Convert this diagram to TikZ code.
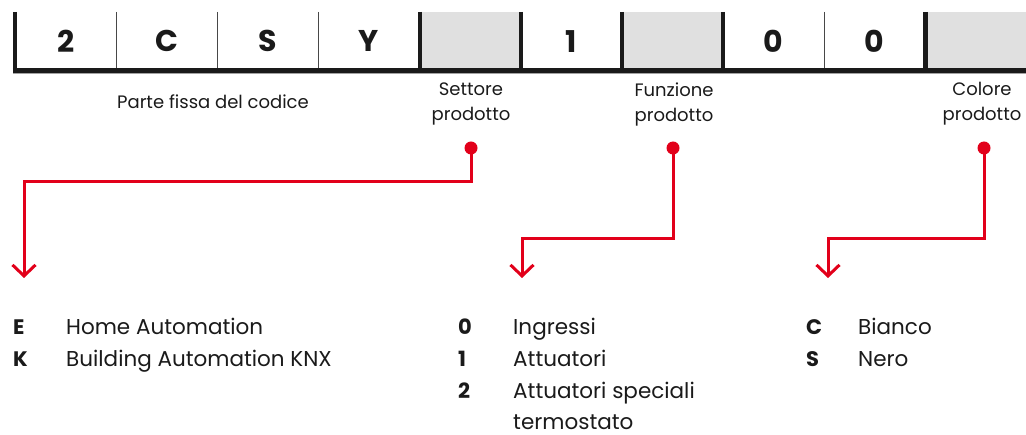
\documentclass[tikz,border=0pt]{standalone}
\usepackage{fontspec}
\setmainfont{Poppins}[Ligatures=NoCommon]
\usepackage{tikz}
\usetikzlibrary{arrows.meta, positioning, calc}
\definecolor{abbred}{RGB}{226, 0, 26}
\definecolor{inkdark}{RGB}{26, 26, 26}
\definecolor{cellgray}{RGB}{224, 224, 224}

\begin{document}
\begin{tikzpicture}[
    x=1pt, y=-1pt,
    cell/.style={minimum width=101.1pt, minimum height=58pt, inner sep=0pt,
                 font=\fontsize{30}{30}\selectfont\bfseries, text=inkdark},
    thinsep/.style={draw=inkdark!80, line width=1pt},
    thicksep/.style={draw=inkdark, line width=4.5pt},
    lbl/.style={font=\fontsize{18}{25}\selectfont, text=inkdark, align=center},
    keych/.style={anchor=base west, inner sep=0pt,
                  font=\fontsize{21}{21}\selectfont\bfseries, text=inkdark},
    keytxt/.style={anchor=base west, inner sep=0pt,
                   font=\fontsize{21.5}{21.5}\selectfont, text=inkdark},
    dot/.style={circle, fill=abbred, minimum size=13pt, inner sep=0pt},
    arr/.style={-{Straight Barb[length=11pt, width=23pt, line width=3pt]},
                line width=3pt, draw=abbred},
]
    \useasboundingbox (0,0) rectangle (1026,435);

    % code cells
    \foreach \ch [count=\i from 0] in {2,C,S,Y,,1,,0,0,} {
        \node[cell, anchor=north west] (c\i) at (15+101.1*\i,12) {\ch};
    }
    \foreach \i in {4,6,9} \fill[cellgray] (c\i.north west) rectangle (c\i.south east);

    \foreach \i in {0,1,2,7} \draw[thinsep] (c\i.north east) -- (c\i.south east);
    \foreach \i in {3,4,5,6,8} \draw[thicksep] (c\i.north east) -- (c\i.south east);
    \draw[thicksep] (c0.north west) -- (c0.south west);
    \draw[inkdark!40, line width=1pt] ($(c0.south west)+(-2,3.5)$) -- ($(c9.south east)+(0,3.5)$);
    \draw[thicksep] ($(c0.south west)+(-2.25,0)$) -- (c9.south east);

    % labels under the code
    \node[lbl] (fix) at (213,102) {Parte fissa del codice};
    \node[lbl] (set) at (471,104) {Settore\\prodotto};
    \node[lbl] (fun) at (674,104) {Funzione\\prodotto};
    \node[lbl] (col) at (982,104) {Colore\\prodotto};

    % red pointers
    \node[dot] (d1) at (471,148) {};
    \node[dot] (d2) at (673,148) {};
    \node[dot] (d3) at (984,148) {};
    \coordinate (e1) at (24,278);
    \coordinate (e2) at (522,278);
    \coordinate (e3) at (828,278);

    \draw[arr] (d1.center) -- ++(0,34) -| (e1);
    \draw[arr] (d2.center) -- ++(0,91) -| (e2);
    \draw[arr] (d3.center) -- ++(0,91) -| (e3);

    % legend
    \node[keych] (kE) at (13,335) {E};
    \node[keytxt] (tE) at (66,335) {Home Automation};
    \node[keych] (kK) at (13,367) {K};
    \node[keytxt] (tK) at (66,367) {Building Automation KNX};

    \node[keych] (k0) at (458,335) {0};
    \node[keytxt] (t0) at (513,335) {Ingressi};
    \node[keych] (k1) at (458,367) {1};
    \node[keytxt] (t1) at (513,367) {Attuatori};
    \node[keych] (k2) at (458,399) {2};
    \node[keytxt] (t2) at (513,399) {Attuatori speciali};
    \node[keytxt] (t2b) at (513,429.5) {termostato};

    \node[keych] (kC) at (806,335) {C};
    \node[keytxt] (tC) at (858,335) {Bianco};
    \node[keych] (kS) at (806,367) {S};
    \node[keytxt] (tS) at (858,367) {Nero};
\end{tikzpicture}
\end{document}
